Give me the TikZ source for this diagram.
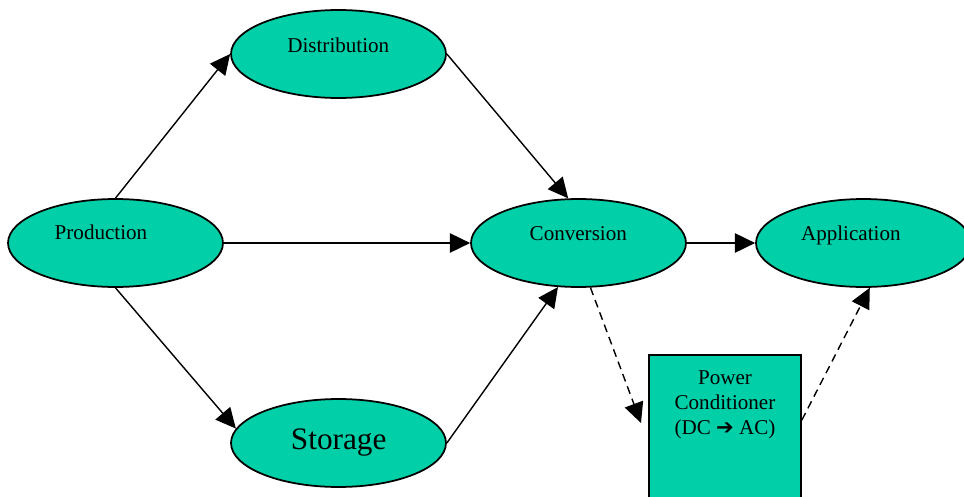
\documentclass[tikz,border=0pt]{standalone}
\usepackage{fontspec}
\setmainfont{Liberation Serif}
\newfontfamily\arrowfont{DejaVu Sans}
\usetikzlibrary{arrows.meta,shapes.geometric}
\definecolor{unitgreen}{HTML}{00CFA8}
\tikzset{
  unitnode/.style={ellipse,draw=black,line width=1pt,fill=unitgreen,minimum width=4.3cm,minimum height=1.76cm,inner sep=0pt},
  condbox/.style={rectangle,draw=black,line width=1pt,fill=unitgreen,minimum width=3.04cm,minimum height=3.2cm,inner sep=0pt},
  unittext/.style={anchor=base,inner sep=0pt,font=\fontsize{12}{14.2}\selectfont},
  flowedge/.style={-{Triangle[length=11.5pt,width=11pt]},line width=0.8pt},
  dashedge/.style={flowedge,dash pattern=on 4.5pt off 3pt},
}

\begin{document}
\begin{tikzpicture}[x=0.02cm,y=-0.02cm]
  \useasboundingbox (0,0) rectangle (964,497);
  \node[unitnode] (nProd) at (115.5,243) {};
  \node[unitnode] (nDist) at (338.5,54) {};
  \node[unitnode] (nConv) at (578.5,243) {};
  \node[unitnode] (nAppl) at (863.5,243) {};
  \node[unitnode] (nStor) at (338.5,443) {};
  \node[condbox] (nCond) at (725,435) {};
  \node[unittext] (tProd) at (101,239.3) {Production};
  \node[unittext] (tDist) at (338.3,52) {Distribution};
  \node[unittext] (tConv) at (578.3,240.3) {Conversion};
  \node[unittext] (tAppl) at (850.8,240) {Application};
  \node[unittext,font=\fontsize{17.8}{20}\selectfont] (tStor) at (338.7,449.3) {Storage};
  \node[unittext,anchor=center,align=center] (tCond) at (725,405)
    {Power\\Conditioner\\(DC {\arrowfont\bfseries ➔} AC)};
  \coordinate (cCondIn) at (641,423);
  \draw[flowedge] (nProd.north) -- (nDist.west);
  \draw[flowedge] (nDist.east) -- (nConv.103);
  \draw[flowedge] (nProd.east) -- (nConv.west);
  \draw[flowedge] (nProd.south) -- (nStor.172);
  \draw[flowedge] (nStor.east) -- (nConv.-115);
  \draw[flowedge] (nConv.east) -- (nAppl.west);
  \draw[dashedge] (nConv.-75) -- (cCondIn);
  \draw[dashedge] (nCond.11) -- (nAppl.-82);
\end{tikzpicture}
\end{document}
